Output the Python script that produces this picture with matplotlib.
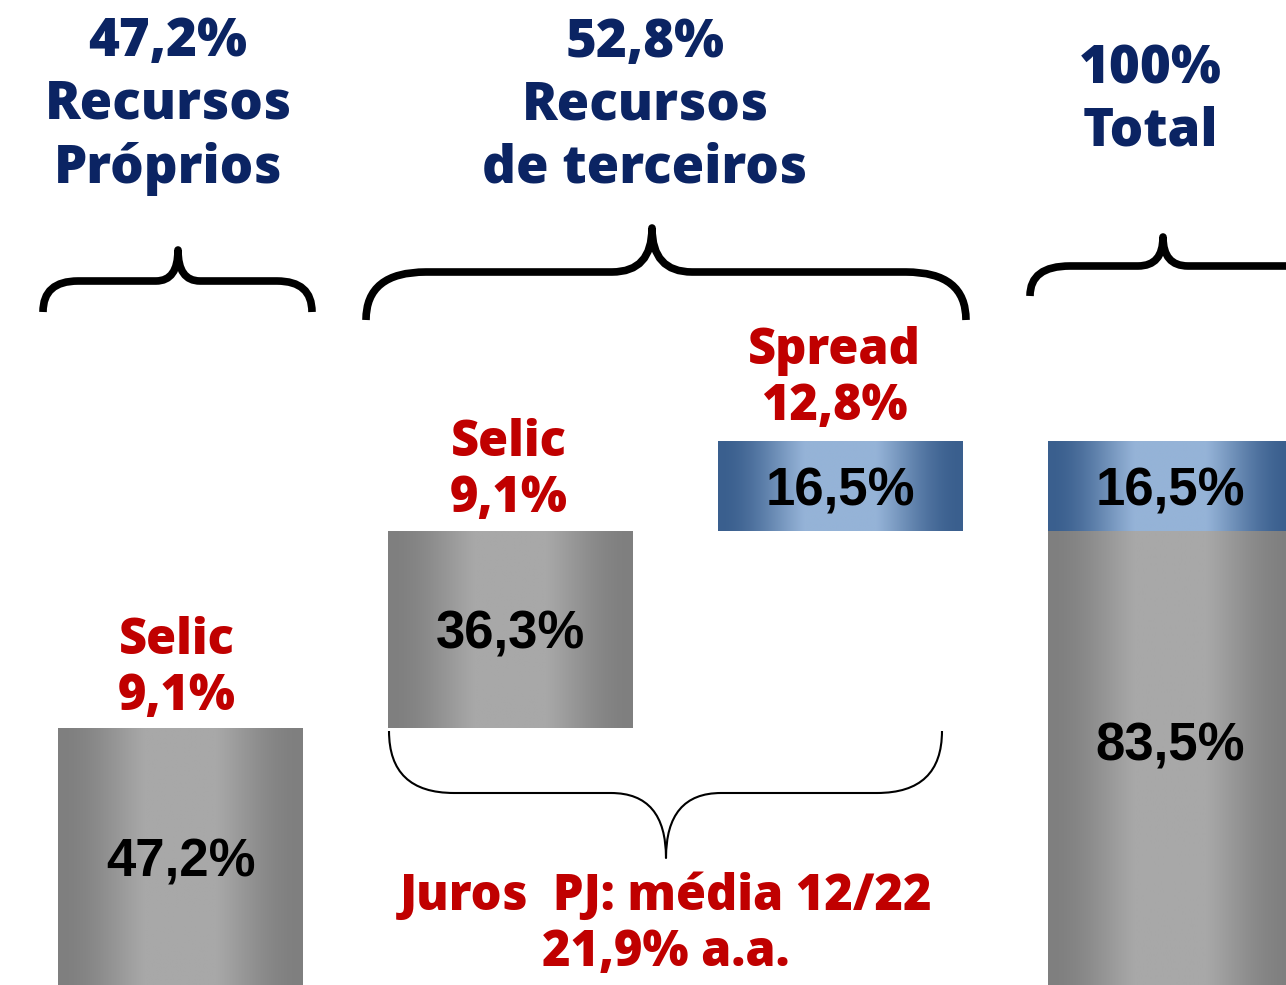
import matplotlib
matplotlib.use("Agg")
import matplotlib.pyplot as plt
import numpy as np
from matplotlib.path import Path
from matplotlib.patches import PathPatch

# data
steps = ["Recursos próprios", "Selic terceiros", "Spread", "Total"]
values = [47.2, 36.3, 16.5, 83.5]
bottoms = [0, 47.2, 83.5, 0]
total_top = 16.5
bar_labels = ["47,2%", "36,3%", "16,5%", "83,5%"]
grey = ["#7f7f7f", "#a8a8a8", "#7f7f7f"]
blue = ["#3a5f8e", "#95b3d7", "#3a5f8e"]

W, H = 1286, 985
NAVY = "#0b2463"
RED = "#c00000"
HEAD = ["Open Sans", "DejaVu Sans"]

fig = plt.figure(figsize=(W / 100, H / 100), dpi=100)
ax = fig.add_axes([0, 0, 1, 1])
ax.set_xlim(-0.547, 3.35)
ax.set_ylim(0, 181.0)
ax.axis("off")


def gradient(cols):
    t = np.linspace(0, 1, 256)
    w = 0.5 - 0.5 * np.cos(2 * np.pi * t)
    w = np.clip(w * 1.25, 0, 1)
    c0 = np.array(matplotlib.colors.to_rgb(cols[0]))
    c1 = np.array(matplotlib.colors.to_rgb(cols[1]))
    img = c0[None, :] * (1 - w[:, None]) + c1[None, :] * w[:, None]
    return img[None, :, :]


def fill_bar(rect, cols):
    x, y = rect.get_x(), rect.get_y()
    w, h = rect.get_width(), rect.get_height()
    im = ax.imshow(gradient(cols), extent=(x, x + w, y, y + h),
                   aspect="auto", zorder=2, interpolation="bilinear")
    im.set_clip_path(rect)


xs = np.arange(len(values))
bars = ax.bar(xs, values, bottom=bottoms, width=0.742, color="none",
              linewidth=0, zorder=1)
top = ax.bar([3], [total_top], bottom=[values[3]], width=0.742,
             color="none", linewidth=0, zorder=1)
for i, b in enumerate(bars):
    fill_bar(b, blue if i == 2 else grey)
fill_bar(top[0], blue)

lab = dict(ha="center", va="center_baseline", fontsize=38, fontweight="bold",
           family="Liberation Sans", zorder=3)
for i, b in enumerate(bars):
    yc = b.get_y() + b.get_height() / 2
    if i == 3:
        yc += 3
    ax.text(b.get_x() + b.get_width() / 2, yc, bar_labels[i], **lab)
ax.text(3, values[3] + total_top / 2, "16,5%", **lab)

# overlay in pixel coordinates for braces and headings
ov = fig.add_axes([0, 0, 1, 1])
ov.set_xlim(0, W)
ov.set_ylim(H, 0)
ov.axis("off")


def brace(x0, x1, xc, y_end, y_mid, y_tip, r, r2, lw):
    verts = [(x0, y_end), (x0, y_mid), (x0 + r, y_mid),
             (xc - r2, y_mid),
             (xc, y_mid), (xc, y_tip),
             (xc, y_mid), (xc + r2, y_mid),
             (x1 - r, y_mid),
             (x1, y_mid), (x1, y_end)]
    codes = [Path.MOVETO, Path.CURVE3, Path.CURVE3, Path.LINETO,
             Path.CURVE3, Path.CURVE3, Path.CURVE3, Path.CURVE3,
             Path.LINETO, Path.CURVE3, Path.CURVE3]
    ov.add_patch(PathPatch(Path(verts, codes), fill=False, lw=lw,
                           edgecolor="black", capstyle="butt",
                           joinstyle="round"))


brace(43, 312, 178, 312, 281, 250, 35, 22, 5.5)
brace(366, 966, 652, 320, 272, 228, 60, 40, 5.5)
brace(1030, 1330, 1163, 296, 266, 237, 40, 25, 5.5)
brace(389, 942, 666, 731, 793, 858, 65, 55, 1.5)

hs = dict(ha="center", va="center", color=NAVY, fontsize=38,
          fontweight=800, family=HEAD, linespacing=1.25)
ov.text(168, 106, "47,2%\nRecursos\nPróprios", **hs)
ov.text(645, 106, "52,8%\nRecursos\nde terceiros", **hs)
ov.text(1150, 101, "100%\nTotal", **hs)

rs = dict(ha="center", va="center", color=RED, fontsize=35,
          fontweight=800, family=HEAD, linespacing=1.16)
ov.text(177, 669, "Selic\n9,1%", **rs)
ov.text(509, 471, "Selic\n9,1%", **rs)
ov.text(834, 379, "Spread\n12,8%", **rs)
ov.text(666, 925, "Juros  PJ: média 12/22\n21,9% a.a.", **rs)

fig.savefig("out.png", dpi=100)
